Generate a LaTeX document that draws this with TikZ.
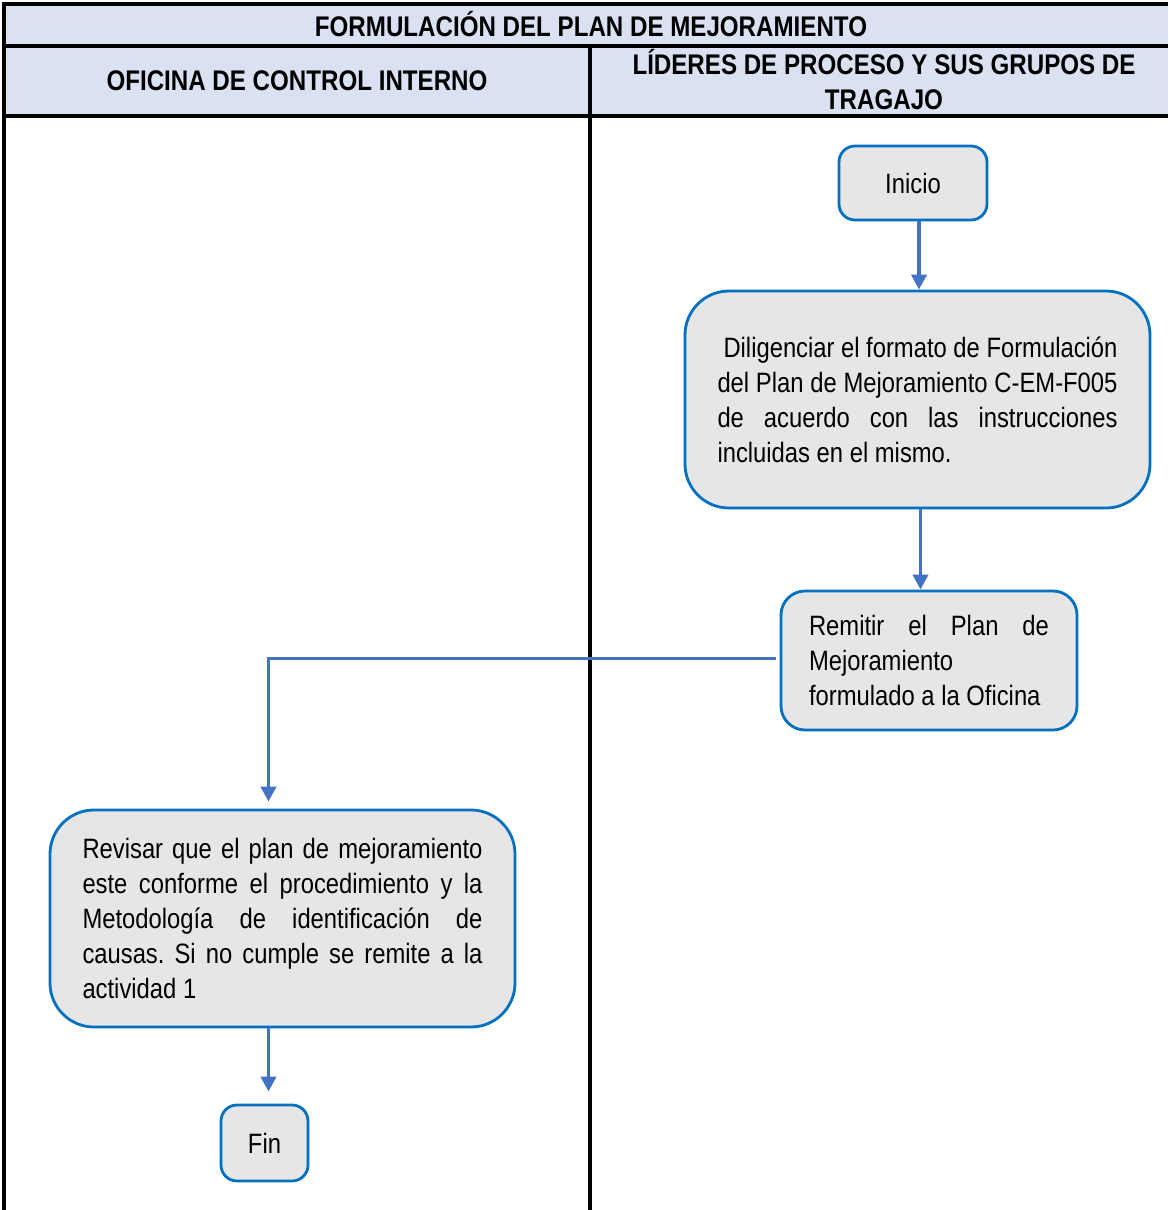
\documentclass[tikz,border=0pt]{standalone}
\usepackage{fontspec}
\setmainfont[FakeStretch=0.85]{Liberation Sans}
\usetikzlibrary{arrows.meta,calc}
\definecolor{HeadBlue}{RGB}{217,225,242}
\definecolor{BoxFill}{RGB}{230,230,230}
\definecolor{BoxLine}{RGB}{0,112,192}
\definecolor{FlowBlue}{RGB}{68,114,196}
\newcommand{\BodyFont}{\fontsize{14}{17.5}\selectfont\frenchspacing\hyphenpenalty=10000}
\tikzset{Activity/.style={
    inner sep=0pt,
    rounded corners=22pt,
    draw=BoxLine,
    line width=1.4pt,
    fill=BoxFill,
    align=justify,
    font=\BodyFont,
    }
}
\tikzset{Terminal/.style={
    Activity,
    rounded corners=8pt,
    align=center,
    }
}
\begin{document}
\begin{tikzpicture}[x=0.5pt, y=-0.5pt,
    Rule/.style={black, line width=2pt},
    Flow/.style={FlowBlue, line width=1.9pt, -{Triangle[length=7.5pt,width=7.5pt]}},
    Head/.style={font=\bfseries\fontsize{14.2}{17.5}\selectfont, align=center, inner sep=0pt},
]
\useasboundingbox (0,0) rectangle (1168,1210);
% table
\fill[HeadBlue] (4,4) rectangle (1168,116);
\draw[Rule] (4,1210) -- (4,4) -- (1168,4);
\draw[Rule] (4,45.5) -- (1168,45.5);
\draw[Rule] (4,116) -- (1168,116);
\draw[Rule] (589.5,45.5) -- (589.5,1210);
\node [Head] (title) at (591,24) {FORMULACIÓN DEL PLAN DE MEJORAMIENTO};
\node [Head] (laneOCI) at (297,81) {OFICINA DE CONTROL INTERNO};
\node [Head] (laneLider) at (884,80) {LÍDERES DE PROCESO Y SUS GRUPOS DE\\TRAGAJO};
% activities
\node [Terminal, minimum width=74pt, minimum height=37pt] (inicio) at (913,183) {Inicio};
\node [Activity, text width=200pt, minimum width=232.5pt, minimum height=108.5pt] (diligenciar) at (917.5,399.5)
    {\hspace*{3pt}Diligenciar el formato de Formulación\linebreak del Plan de Mejoramiento C-EM-F005\linebreak de acuerdo con las instrucciones\linebreak incluidas en el mismo.};
\node [Activity, rounded corners=12pt, text width=120pt, minimum width=148pt, minimum height=69.5pt] (remitir) at (929,660.5)
    {Remitir el Plan de\linebreak Mejoramiento\\formulado a la Oficina};
\node [Activity, text width=200pt, minimum width=232.5pt, minimum height=108.5pt] (revisar) at (282.5,918.5)
    {Revisar que el plan de mejoramiento\linebreak este conforme el procedimiento y la\linebreak Metodología de identificación de\linebreak causas. Si no cumple se remite a la\linebreak actividad 1};
\node [Terminal, minimum width=43.5pt, minimum height=38pt] (fin) at (264.5,1143) {Fin};
% connectors
\draw[Flow] ($(inicio.south)+(6,0)$) -- ($(inicio.south |- diligenciar.north)+(6,0)$);
\draw[Flow] ($(diligenciar.south)+(3,0)$) -- ($(diligenciar.south |- remitir.north)+(3,0)$);
\draw[Flow, shorten <=2pt, shorten >=3.5pt] ($(remitir.west)+(0,-2)$) -| ($(revisar.north)+(-14,0)$);
\draw[Flow, shorten >=6pt] ($(revisar.south -| fin.north)+(4,0)$) -- ($(fin.north)+(4,0)$);
\end{tikzpicture}
\end{document}
